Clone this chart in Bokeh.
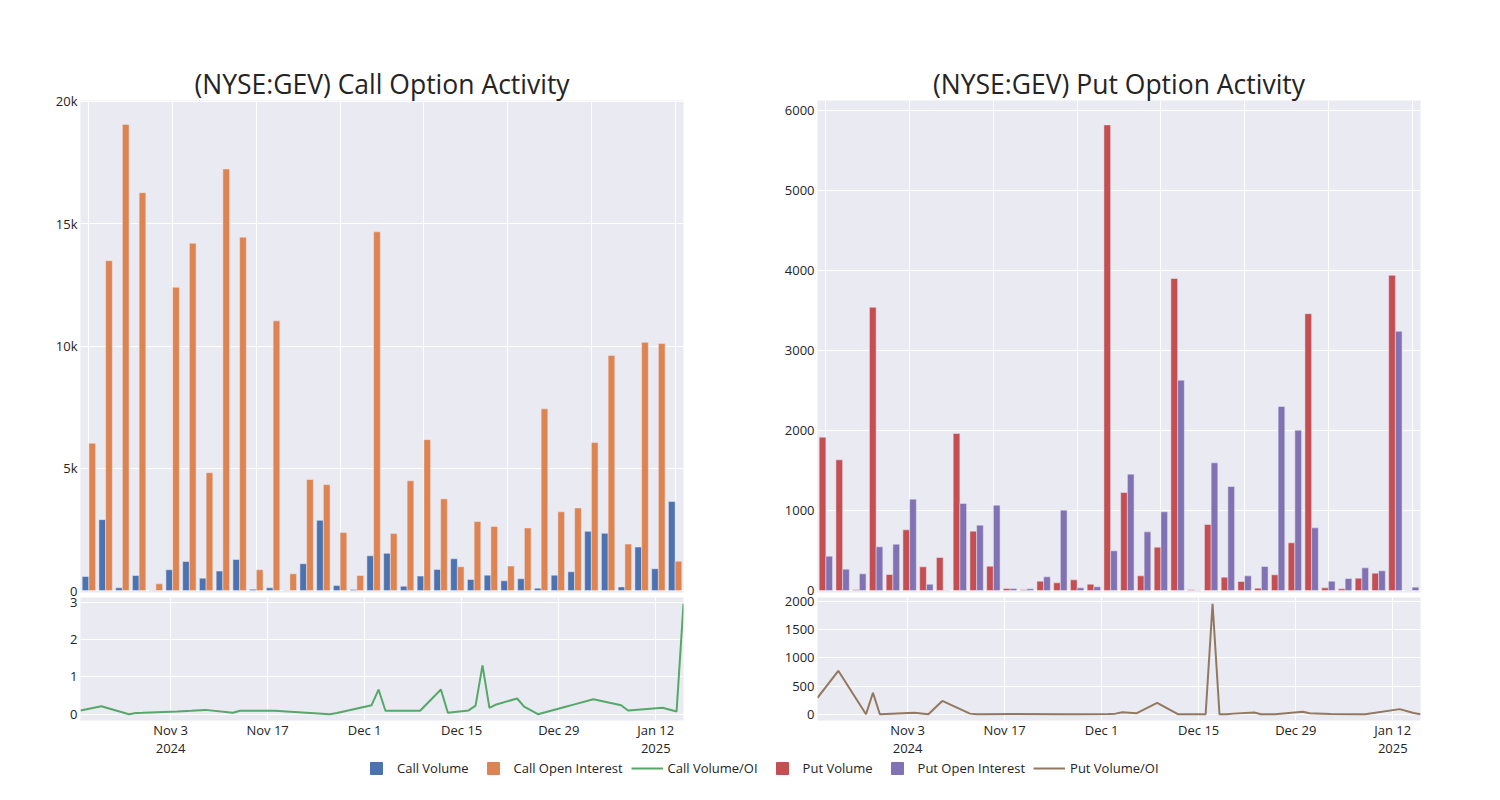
import pandas as pd
from bokeh.plotting import figure
from bokeh.layouts import column, row
from bokeh.models import (ColumnDataSource, Range1d, FixedTicker, NumeralTickFormatter,
                          Legend, LegendItem)
from bokeh.transform import dodge
from bokeh.embed import file_html
from bokeh.resources import INLINE

# ---------------- data ----------------
dates = ["2024-10-21", "2024-10-24", "2024-10-28", "2024-10-29", "2024-10-30", "2024-11-04",
         "2024-11-06", "2024-11-08", "2024-11-12", "2024-11-13", "2024-11-18", "2024-11-26",
         "2024-11-27", "2024-12-02", "2024-12-03", "2024-12-04", "2024-12-06", "2024-12-09",
         "2024-12-12", "2024-12-13", "2024-12-16", "2024-12-17", "2024-12-18", "2024-12-19",
         "2024-12-20", "2024-12-23", "2024-12-24", "2024-12-26", "2024-12-30", "2024-12-31",
         "2025-01-03", "2025-01-07", "2025-01-08", "2025-01-13", "2025-01-15", "2025-01-16"]

call_volume = [575, 2900, 110, 615, 10, 850, 1190, 505, 795, 1270, 55, 110,
               10, 1095, 2870, 205, 40, 1420, 1520, 178, 590, 862, 1300, 452,
               630, 397, 480, 96, 630, 767, 2420, 2340, 150, 1780, 890, 3640]
call_open_interest = [6020, 13490, 19060, 16270, 275, 12400, 14200, 4820, 17240, 14450, 850, 11030,
                      685, 4540, 4330, 2370, 615, 14670, 2330, 4490, 6170, 3750, 972, 2820,
                      2620, 1000, 2560, 7430, 3220, 3380, 6050, 9610, 1900, 10150, 10100, 1200]
call_vol_oi = [0.10, 0.21, 0.0, 0.03, 0.035, 0.07, 0.09, 0.115, 0.04, 0.09, 0.09, 0.0,
               0.03, 0.24, 0.66, 0.09, 0.09, 0.09, 0.66, 0.04, 0.10, 0.23, 1.31, 0.17,
               0.26, 0.42, 0.20, 0.0, 0.20, 0.25, 0.40, 0.24, 0.10, 0.17, 0.07, 2.96]

put_volume = [1917, 1633, 8, 3540, 200, 758, 296, 412, 1963, 742, 304, 25,
              8, 117, 96, 133, 79, 5820, 1225, 183, 542, 3900, 8, 825,
              167, 113, 29, 196, 596, 3460, 33, 21, 154, 217, 3940, 4]
put_open_interest = [429, 267, 208, 546, 579, 1142, 79, 3, 1088, 817, 1067, 25,
                     21, 171, 1004, 33, 46, 496, 1454, 733, 983, 2629, 4, 1596,
                     1300, 183, 300, 2300, 2004, 783, 117, 150, 283, 246, 3240, 42]
put_vol_oi = [290, 770, 0, 380, 0, 25, 0, 235, 10, 0, 3, 0,
              0, 5, 10, 35, 15, 200, 0, 0, 0, 1960, 0, 0,
              10, 30, 0, 0, 45, 15, 5, 0, 0, 90, 20, 0]

tick_dates = ["2024-11-03", "2024-11-17", "2024-12-01", "2024-12-15", "2024-12-29", "2025-01-12"]
tick_labels = ["Nov 3\n2024", "Nov 17", "Dec 1", "Dec 15", "Dec 29", "Jan 12\n2025"]

call_title = "(NYSE:GEV) Call Option Activity"
put_title = "(NYSE:GEV) Put Option Activity"
legend_labels = ["Call Volume", "Call Open Interest", "Call Volume/OI",
                 "Put Volume", "Put Open Interest", "Put Volume/OI"]

# ---------------- styling ----------------
BG = "#EAEAF2"
TXT = "#242424"
FONT = "Open Sans"
FS = "13px"
BLUE, ORANGE, GREEN = "#4C72B0", "#DD8452", "#55A868"
RED, PURPLE, BROWN = "#C44E52", "#8172B3", "#937860"

n = len(dates)
idx = list(range(n))
dt = [pd.Timestamp(d) for d in dates]
tick_ms = [float(pd.Timestamp(d).value // 10**6) for d in tick_dates]

OVERLAP = 21  # bottom panel canvas slides up under the top panel's lower border


def style(p):
    p.background_fill_color = BG
    p.border_fill_color = "white"
    p.outline_line_color = None
    p.grid.grid_line_color = "white"
    p.grid.grid_line_width = 1
    for ax in p.axis:
        ax.axis_line_color = None
        ax.major_tick_line_color = None
        ax.minor_tick_line_color = None
        ax.major_tick_out = 0
        ax.major_tick_in = 0
        ax.minor_tick_out = 0
        ax.major_label_text_font = FONT
        ax.major_label_text_font_size = FS
        ax.major_label_text_color = TXT
        ax.major_label_standoff = 3


def bar_fig(title, vol, oi, c1, c2, yr, yticks, fmt, width, lb, rb):
    src = ColumnDataSource(dict(i=idx, vol=vol, oi=oi))
    p = figure(width=width, height=606, x_range=Range1d(-0.5, n - 0.5), y_range=Range1d(*yr),
               output_backend="svg", toolbar_location=None,
               min_border_left=lb, min_border_right=rb, min_border_top=100, min_border_bottom=14)
    p.vbar(x=dodge("i", -0.2, range=p.x_range), top="vol", width=0.4, source=src,
           fill_color=c1, line_color=BG, line_width=0.5)
    p.vbar(x=dodge("i", 0.2, range=p.x_range), top="oi", width=0.4, source=src,
           fill_color=c2, line_color=BG, line_width=0.5)
    style(p)
    p.xaxis.visible = False
    p.xgrid.ticker = FixedTicker(ticks=list(range(0, n, 5)))
    p.yaxis.ticker = FixedTicker(ticks=yticks)
    if fmt:
        p.yaxis.formatter = NumeralTickFormatter(format=fmt)
    p.title.text = title
    p.title.align = "center"
    p.title.text_font = FONT
    p.title.text_font_size = "26.5px"
    p.title.text_font_style = "normal"
    p.title.text_color = TXT
    p.title.standoff = -2
    return p


def line_fig(ratio, color, yr, yticks, width, lb, rb):
    src = ColumnDataSource(dict(d=dt, r=ratio))
    p = figure(width=width, height=175, x_axis_type="datetime",
               x_range=Range1d(dt[0], dt[-1]), y_range=Range1d(*yr),
               output_backend="svg", toolbar_location=None,
               min_border_left=lb, min_border_right=rb, min_border_top=12, min_border_bottom=40)
    p.line(x="d", y="r", source=src, line_color=color, line_width=2)
    style(p)
    p.border_fill_alpha = 0
    p.margin = (-OVERLAP, 0, 0, 0)
    p.xaxis.ticker = FixedTicker(ticks=tick_ms)
    p.xaxis.major_label_overrides = {m: lab for m, lab in zip(tick_ms, tick_labels)}
    p.xaxis.major_label_text_line_height = 1.0
    p.xaxis.major_label_standoff = 0
    p.yaxis.ticker = FixedTicker(ticks=yticks)
    return p


WL, LBL, RBL = 713, 80, 30
WR, LBR, RBR = 727, 104, 20

top_l = bar_fig(call_title, call_volume, call_open_interest, BLUE, ORANGE,
                (-80, 20040), [0, 5000, 10000, 15000, 20000], "0a", WL, LBL, RBL)
top_r = bar_fig(put_title, put_volume, put_open_interest, RED, PURPLE,
                (-25, 6125), [0, 1000, 2000, 3000, 4000, 5000, 6000], None, WR, LBR, RBR)
bot_l = line_fig(call_vol_oi, GREEN, (-0.17, 3.13), [0, 1, 2, 3], WL, LBL, RBL)
bot_r = line_fig(put_vol_oi, BROWN, (-112, 2071), [0, 500, 1000, 1500, 2000], WR, LBR, RBR)

# legend strip (legend renderers hold a single NaN point so nothing is drawn in the strip)
nan = float("nan")
LH = 16
lf = figure(width=WL + WR, height=LH, toolbar_location=None, output_backend="svg",
            x_axis_location=None, y_axis_location=None, min_border=0,
            x_range=Range1d(0, 1), y_range=Range1d(0, 1))
lf.outline_line_color = None
lf.grid.visible = False
r1 = lf.scatter(x=[nan], y=[nan], marker="square", fill_color=BLUE, line_color=BLUE)
r2 = lf.scatter(x=[nan], y=[nan], marker="square", fill_color=ORANGE, line_color=ORANGE)
r3 = lf.line(x=[nan], y=[nan], line_color=GREEN, line_width=2)
r4 = lf.scatter(x=[nan], y=[nan], marker="square", fill_color=RED, line_color=RED)
r5 = lf.scatter(x=[nan], y=[nan], marker="square", fill_color=PURPLE, line_color=PURPLE)
r6 = lf.line(x=[nan], y=[nan], line_color=BROWN, line_width=2)
legend = Legend(items=[LegendItem(label=lab, renderers=[r])
                       for lab, r in zip(legend_labels, [r1, r2, r3, r4, r5, r6])],
                orientation="horizontal", location=(360, (LH - 30) / 2),
                glyph_width=32, glyph_height=30, label_standoff=5, spacing=8,
                padding=0, margin=0, border_line_color=None, background_fill_alpha=0,
                label_text_font=FONT, label_text_font_size=FS, label_text_color=TXT)
lf.add_layout(legend, "center")

layout = column(row(column(top_l, bot_l), column(top_r, bot_r)), lf)

open("out.html", "w").write(file_html(layout, INLINE))
